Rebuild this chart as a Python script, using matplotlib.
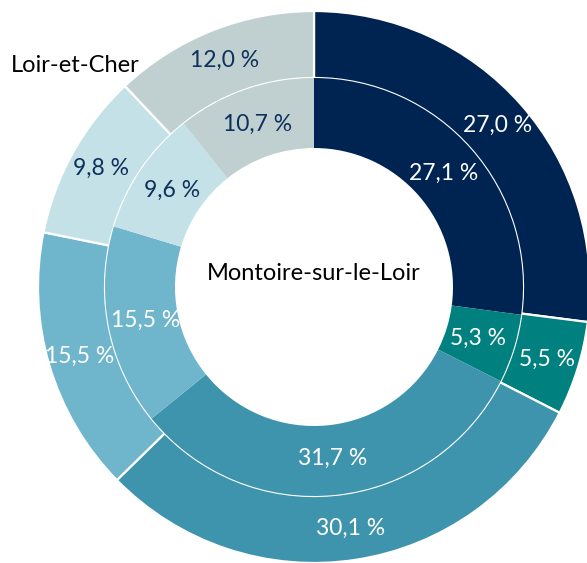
import matplotlib
matplotlib.use("Agg")
import matplotlib.pyplot as plt
import numpy as np

categories = ["A", "B", "C", "D", "E", "F"]
outer_values = [27.0, 5.5, 30.1, 15.5, 9.8, 12.0]   # Loir-et-Cher
inner_values = [27.1, 5.3, 31.7, 15.5, 9.6, 10.7]   # Montoire-sur-le-Loir
colors = ["#002452", "#00807E", "#3F94AD", "#6FB5CC", "#C3E1E6", "#C0CFD0"]
label_colors = ["white", "white", "white", "white", "#0F2F5C", "#0F2F5C"]

plt.rcParams['font.family'] = ['Lato', 'DejaVu Sans']

fig = plt.figure(figsize=(5.87, 5.63), dpi=100)
ax = fig.add_axes([0, 0, 1, 1])

R_out = 276
R_mid = 209
R_in = 139

def fmt(v):
    return f"{v:.1f}".replace(".", ",") + " %"

w_out, _ = ax.pie(outer_values, radius=R_out, colors=colors, startangle=90,
                  counterclock=False,
                  wedgeprops=dict(width=R_out - R_mid, edgecolor="white", linewidth=1.6))
w_in, _ = ax.pie(inner_values, radius=R_mid, colors=colors, startangle=90,
                 counterclock=False,
                 wedgeprops=dict(width=R_mid - R_in, edgecolor="none", linewidth=0))

for wedges, vals, r in [(w_out, outer_values, 244), (w_in, inner_values, 172)]:
    for w, v, c in zip(wedges, vals, label_colors):
        a = np.deg2rad((w.theta1 + w.theta2) / 2)
        ax.text(r * np.cos(a), r * np.sin(a), fmt(v), ha="center", va="center",
                color=c, fontsize=16.5)

ax.text(0, 13, "Montoire-sur-le-Loir", ha="center", va="center", fontsize=17, color="black")
ax.text(-239, 222, "Loir-et-Cher", ha="center", va="center", fontsize=17, color="black")

ax.set_xlim(-314, 587 - 314)
ax.set_ylim(-(563 - 287), 287)
ax.set_aspect("auto")
ax.axis("off")

fig.savefig("out.png", dpi=100)
